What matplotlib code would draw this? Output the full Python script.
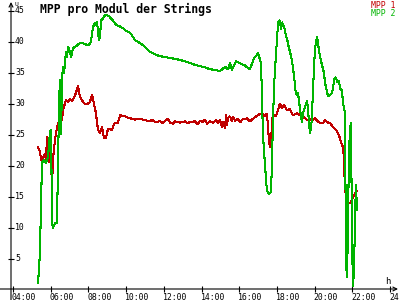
import matplotlib
matplotlib.use("Agg")
import matplotlib.pyplot as plt
from matplotlib.transforms import blended_transform_factory, offset_copy

# ---- data (time in hours, value in V) ----
t_mpp2 = [5.33, 5.43, 5.49, 5.54, 5.64, 5.75, 5.86, 5.96, 6.02, 6.07, 6.12, 6.23, 6.33, 6.39,
          6.44, 6.49, 6.55, 6.60, 6.65, 6.71, 6.81, 6.86, 6.92, 7.02, 7.08, 7.18, 7.34, 7.45,
          7.55, 7.71, 7.87, 8.02, 8.14, 8.19, 8.30, 8.40, 8.46, 8.51, 8.56, 8.62, 8.67, 8.77,
          8.88, 8.99, 9.09, 9.20, 9.31, 9.41, 9.52, 9.68, 9.84, 9.99, 10.21, 10.37, 10.47,
          10.63, 10.74, 10.90, 11.00, 11.16, 11.27, 11.53, 11.80, 12.06, 12.33, 12.59, 12.86,
          13.12, 13.39, 13.66, 13.92, 14.19, 14.45, 14.72, 14.98, 15.14, 15.25, 15.41, 15.51,
          15.62, 15.72, 15.83, 15.94, 16.10, 16.31, 16.47, 16.57, 16.68, 16.79, 16.89, 17.00,
          17.10, 17.16, 17.21, 17.26, 17.37, 17.47, 17.58, 17.69, 17.74, 17.79, 17.85, 17.95,
          18.06, 18.11, 18.16, 18.22, 18.27, 18.38, 18.48, 18.54, 18.64, 18.69, 18.80, 18.91,
          19.01, 19.12, 19.17, 19.28, 19.33, 19.38, 19.49, 19.60, 19.65, 19.75, 19.81, 19.86,
          19.91, 20.02, 20.13, 20.18, 20.23, 20.34, 20.39, 20.50, 20.55, 20.66, 20.71, 20.82,
          20.92, 20.98, 21.03, 21.14, 21.19, 21.29, 21.35, 21.45, 21.51, 21.56, 21.61, 21.67,
          21.72, 21.77, 21.82, 21.88, 21.93, 21.98, 22.03, 22.09, 22.14, 22.19, 22.25]
v_mpp2 = [1.1, 6, 14.5, 20.5, 21, 20.5, 21.5, 25.5, 25.8, 11, 10, 10.8, 10.8, 20,
          30, 34, 25, 34, 36, 35, 38.5, 37.5, 39.2, 38.5, 37.5, 39, 39.3, 39.6,
          39.8, 39.8, 39.6, 39.5, 40, 41.5, 43, 42.8, 43.3, 41.5, 40.3, 41, 43.5, 43.8,
          44.3, 44.3, 44.2, 43.8, 43.4, 43, 42.7, 42.5, 42.2, 41.8, 41.5, 40.8, 40.3,
          40, 39.8, 39.5, 39.2, 38.7, 38.4, 38, 37.7, 37.6, 37.4, 37.3, 37.1,
          36.9, 36.6, 36.3, 36.1, 35.9, 35.6, 35.5, 35.3, 35.7, 36, 35.6, 36.6,
          35.5, 36.2, 36.9, 36.7, 36.5, 36.2, 35.8, 35.6, 36.5, 37.4, 37.7, 38.2,
          37.2, 36.5, 31, 25, 20, 16, 15.5, 15.8, 21, 27, 33, 38,
          43, 43.5, 43.3, 42, 43.2, 42.5, 41, 40.5, 39, 38.5, 37, 34.5,
          31.5, 31.8, 30.5, 28, 27, 28.5, 29.5, 30.5, 29, 25.3, 26, 28,
          32, 39, 40.8, 40, 38.5, 37, 36.3, 35, 33.4, 32, 31.2, 31.5,
          31.8, 32.5, 34, 34.3, 33.5, 33.8, 32.5, 32.2, 30, 29.5, 28.5, 4,
          2, 10, 22, 26, 27, 10, 0.5, 3, 10.8, 17, 12.9]

t_mpp1 = [5.33, 5.43, 5.49, 5.59, 5.70, 5.75, 5.80, 5.86, 5.91, 5.96, 6.02, 6.07, 6.12, 6.18,
          6.28, 6.39, 6.44, 6.49, 6.60, 6.65, 6.76, 6.81, 6.92, 7.02, 7.13, 7.24, 7.34, 7.45,
          7.50, 7.55, 7.66, 7.77, 7.93, 8.08, 8.19, 8.30, 8.40, 8.46, 8.51, 8.62, 8.72, 8.83,
          8.93, 9.04, 9.15, 9.25, 9.36, 9.41, 9.57, 9.68, 9.84, 9.94, 10.10, 10.21, 10.47,
          10.74, 11.00, 11.27, 11.37, 11.53, 11.80, 11.96, 12.06, 12.22, 12.33, 12.49, 12.59,
          12.86, 13.12, 13.28, 13.39, 13.66, 13.82, 13.92, 14.08, 14.19, 14.29, 14.45, 14.61,
          14.77, 14.88, 14.98, 15.09, 15.14, 15.25, 15.30, 15.35, 15.41, 15.51, 15.62, 15.67,
          15.78, 15.94, 16.04, 16.20, 16.31, 16.41, 16.57, 16.73, 16.89, 17.10, 17.21, 17.37,
          17.47, 17.53, 17.58, 17.63, 17.69, 17.74, 17.79, 17.85, 17.95, 18.06, 18.16, 18.27,
          18.38, 18.54, 18.69, 18.85, 19.07, 19.23, 19.38, 19.60, 19.75, 19.86, 20.02, 20.18,
          20.29, 20.45, 20.55, 20.71, 20.82, 20.98, 21.14, 21.29, 21.40, 21.51, 21.56, 21.61,
          21.67, 21.72, 21.88, 21.98, 22.09, 22.25]
v_mpp1 = [23, 22.3, 21, 21.3, 22, 20.8, 24.7, 21.3, 20.5, 23, 20.5, 16.5, 21, 23,
          25.3, 27, 26.3, 27.2, 27.4, 29, 30.1, 30.6, 30.3, 30.8, 30.5, 31, 31.8, 33,
          32, 31.2, 30.6, 30.1, 30, 30.3, 31.5, 30, 28.5, 27, 25.8, 25.3, 26.3, 24.5,
          24.5, 26, 26, 25.8, 26.8, 27, 27, 28.2, 28, 28, 27.8, 27.7, 27.5,
          27.6, 27.4, 27.2, 27.5, 27.1, 27.2, 26.9, 27.3, 27.6, 27.0, 26.8, 27.2,
          27.0, 27.2, 26.9, 27.1, 27.2, 26.7, 27.3, 27.1, 27.5, 26.8, 27.2, 27.0,
          27.4, 26.9, 27.4, 26.3, 27.2, 26.1, 28.3, 26.5, 27.8, 28.0, 27.2, 27.9,
          27.3, 27.6, 27.0, 27.6, 27.5, 27.7, 27.2, 27.6, 28.0, 28.4, 28.5, 28,
          28.5, 26.3, 24, 23, 24, 27, 28.5, 28, 28.1, 29, 30.1, 29.3,
          29.8, 29, 29.2, 28.2, 28.5, 28.2, 28, 27.4, 27.6, 27.4, 27.7, 27.2,
          26.9, 26.9, 27.4, 27, 26.9, 26.3, 25.8, 25, 23.9, 23, 21, 16,
          15.6, 14.2, 14, 14.5, 15.3, 16]

x_ticks = [4, 6, 8, 10, 12, 14, 16, 18, 20, 22, 24]
x_tick_labels = ["04:00", "06:00", "08:00", "10:00", "12:00", "14:00",
                 "16:00", "18:00", "20:00", "22:00", "24:00"]
y_ticks = [5, 10, 15, 20, 25, 30, 35, 40, 45]
y_tick_labels = ["5", "10", "15", "20", "25", "30", "35", "40", "45"]
series_names = ["MPP 1", "MPP 2"]
title = "MPP pro Modul der Strings"

RED = "#c00000"
GREEN = "#00b400"
MONO = "DejaVu Sans Mono"
FS = 5.9

W, H = 400, 300
fig = plt.figure(figsize=(4, 3), dpi=100)
fig.patch.set_facecolor("white")
# axes box: left spine at x=11px, bottom spine at y=289px (from top), top at y=2px, right at 398px
ax = fig.add_axes([11 / W, (H - 289) / H, 387 / W, 287 / H])
ax.set_facecolor("white")
ax.set_xlim(3.894, 24.424)
ax.set_ylim(0.16, 46.45)

ax.plot(t_mpp1, v_mpp1, color=RED, lw=0.75, antialiased=False, solid_joinstyle="miter")
ax.plot(t_mpp2, v_mpp2, color=GREEN, lw=0.75, antialiased=False, solid_joinstyle="miter")

for s in ax.spines.values():
    s.set_visible(False)

ax.set_xticks(x_ticks)
ax.set_yticks(y_ticks)
ax.tick_params(axis="both", direction="inout", length=4.5, width=0.8, color="black",
               labelbottom=False, labelleft=False)

# axis lines with arrows
ax.annotate("", xy=(0, 1.0), xytext=(0, -11 / 287), xycoords="axes fraction",
            arrowprops=dict(arrowstyle="->", lw=0.8, color="black", mutation_scale=7,
                            shrinkA=0, shrinkB=0), annotation_clip=False)
ax.annotate("", xy=(1.0, 0), xytext=(-11 / 387, 0), xycoords="axes fraction",
            arrowprops=dict(arrowstyle="->", lw=0.8, color="black", mutation_scale=7,
                            shrinkA=0, shrinkB=0), annotation_clip=False)

# y tick labels to the right of the axis
ty = blended_transform_factory(ax.transAxes, ax.transData)
for v, lab in zip(y_ticks, y_tick_labels):
    ax.text(4 / 387, v, lab, transform=ty, ha="left", va="center",
            fontsize=FS, family=MONO, color="black", clip_on=False)

# x tick labels below the axis, starting just at the tick
tx = blended_transform_factory(ax.transData, ax.transAxes)
tx_off = offset_copy(tx, fig=fig, x=-1.0, y=-3.5, units="dots")
for t, lab in zip(x_ticks, x_tick_labels):
    ax.text(t, 0, lab, transform=tx_off, ha="left", va="top",
            fontsize=FS, family=MONO, color="black", clip_on=False)

# axis unit labels
fig.text(14 / W, 1 - 4 / H, "U", fontsize=4.5, family=MONO, ha="left", va="center")
fig.text(388 / W, 1 - 281 / H, "h", fontsize=6.5, family=MONO, ha="center", va="center")

# title
fig.text(40 / W, 1 - 12.5 / H, title, fontsize=8.3, family=MONO, fontweight="bold",
         ha="left", va="baseline", color="black")

# legend
fig.text(395 / W, 1 - 8 / H, series_names[0], fontsize=FS, family=MONO,
         ha="right", va="baseline", color=RED)
fig.text(395 / W, 1 - 15.5 / H, series_names[1], fontsize=FS, family=MONO,
         ha="right", va="baseline", color=GREEN)

fig.savefig("out.png", dpi=100, facecolor="white")
